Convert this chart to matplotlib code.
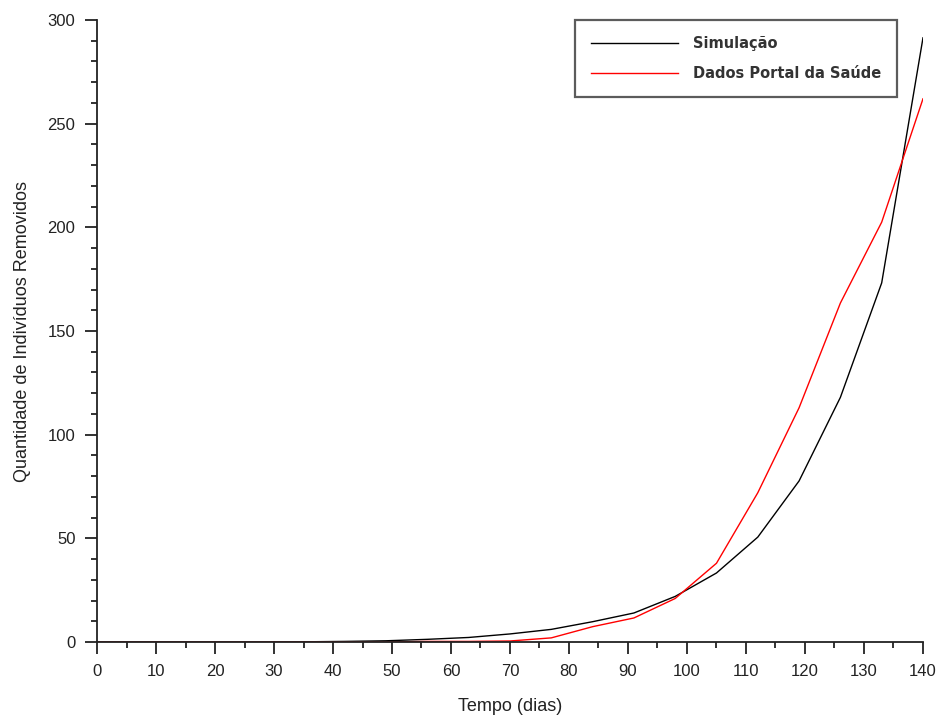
import numpy as np
import matplotlib
matplotlib.use("Agg")
import matplotlib.pyplot as plt
from matplotlib.ticker import MultipleLocator

# weekly samples (dias)
dias = np.arange(0, 141, 7)
simulacao = [0, 0, 0, 0, 0, 0.1, 0.3, 0.6, 1.3, 2.2, 3.9, 6.1, 9.8, 14.0,
             22.0, 33.3, 50.6, 77.7, 118.0, 173.2, 291.4]
portal = [0, 0, 0, 0, 0, 0, 0, 0, 0.3, 0.3, 0.5, 2.0, 7.4, 11.6,
          21.0, 38.0, 72.0, 113.0, 163.5, 202.5, 262.0]

plt.rcParams['font.family'] = ['Liberation Sans', 'DejaVu Sans']

fig = plt.figure(figsize=(9.4, 7.2), dpi=100)
ax = fig.add_axes([0.1032, 0.1083, 0.8787, 0.8639])

ax.plot(dias, simulacao, color='black', lw=1.0, label='Simulação')
ax.plot(dias, portal, color='red', lw=1.0, label='Dados Portal da Saúde')

ax.set_xlim(0, 140)
ax.set_ylim(0, 300)
ax.xaxis.set_major_locator(MultipleLocator(10))
ax.xaxis.set_minor_locator(MultipleLocator(5))
ax.yaxis.set_major_locator(MultipleLocator(50))
ax.yaxis.set_minor_locator(MultipleLocator(10))

for s in ['top', 'right']:
    ax.spines[s].set_visible(False)
for s in ['left', 'bottom']:
    ax.spines[s].set_linewidth(1.3)
    ax.spines[s].set_color('#222222')

ax.tick_params(which='major', length=8.5, width=1.3, labelsize=12, pad=7,
               color='#222222', labelcolor='#222222')
ax.tick_params(which='minor', length=4, width=1.3, color='#222222')

ax.set_xlabel('Tempo (dias)', fontsize=13, labelpad=14, color='#222222')
ax.set_ylabel('Quantidade de Indivíduos Removidos', fontsize=13,
              labelpad=12, color='#222222')

leg = ax.legend(loc='upper right', bbox_to_anchor=(0.9685, 1.0),
                borderaxespad=0, frameon=True, fancybox=False,
                handlelength=6.0, handletextpad=1.0, borderpad=1.1,
                labelspacing=1.0,
                prop={'family': 'DejaVu Sans', 'weight': 'bold', 'size': 10.5})
leg.get_frame().set_edgecolor('#333333')
leg.get_frame().set_linewidth(1.6)
for t in leg.get_texts():
    t.set_color('#333333')

fig.savefig('out.png', dpi=100)
